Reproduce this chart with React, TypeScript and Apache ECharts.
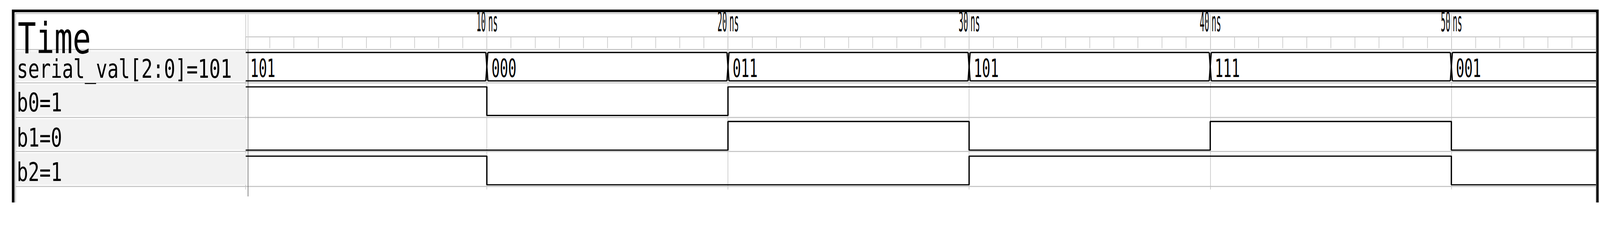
import React, { useEffect, useRef } from "react";
import * as echarts from "echarts";

const T_MAX = 56;
const TICK_LABELS = [10, 20, 30, 40, 50];
const SIGNAL_NAMES = ["serial_val[2:0]=101", "b0=1", "b1=0", "b2=1"];
const BUS_START = [0, 10, 20, 30, 40, 50];
const BUS_END = [10, 20, 30, 40, 50, 56];
const BUS_VALUES = ["101", "000", "011", "101", "111", "001"];
const B0 = [[0, 1], [10, 0], [20, 1], [56, 1]];
const B1 = [[0, 0], [20, 1], [30, 0], [40, 1], [50, 0], [56, 0]];
const B2 = [[0, 1], [10, 0], [30, 1], [50, 0], [56, 0]];

const MONO = "DejaVu Sans Mono";
const W = 4851;
const H = 614;
const GL = 745;
const GR = W - 745 - 4094;
const ROW_LINES = [150, 251, 356, 459, 565];
const LABEL_Y = [209, 311, 417, 521];

export default function App() {
  const ref = useRef<HTMLDivElement>(null);
  const vw = typeof window !== "undefined" ? window.innerWidth : W;
  const vh = typeof window !== "undefined" ? window.innerHeight : H;
  const sc = Math.min(1, vw / W, vh / H);
  useEffect(() => {
    const chart = echarts.init(ref.current!, null, { renderer: "svg" });
    const xBase = { type: "value", min: 0, max: T_MAX, show: false };
    const rowGrids = [
      { top: 159, height: 86 },
      { top: 263, height: 87 },
      { top: 368, height: 87 },
      { top: 473, height: 87 },
    ];
    const grids: any[] = [
      { left: GL, right: GR, top: 76, height: 35 },
      { left: GL, right: GR, top: 44, height: 530 },
      ...rowGrids.map((g) => ({ left: GL, right: GR, top: g.top, height: g.height })),
    ];
    const xAxes: any[] = [
      {
        type: "value", min: 0, max: T_MAX, interval: 1, gridIndex: 0, position: "bottom",
        axisLine: { show: true, onZero: false, lineStyle: { color: "#c8c8c8", width: 3 } },
        axisTick: { show: true, inside: false, length: 35, lineStyle: { color: "#c8c8c8", width: 2 } },
        axisLabel: { show: false }, splitLine: { show: false },
      },
      {
        type: "value", min: 0, max: T_MAX, interval: 10, gridIndex: 1,
        axisLine: { show: false }, axisTick: { show: false }, axisLabel: { show: false },
        splitLine: { show: true, lineStyle: { color: "#c8c8c8", width: 2 } },
      },
      ...rowGrids.map((_, i) => ({ ...xBase, gridIndex: i + 2 })),
    ];
    const yAxes: any[] = grids.map((_, i) => ({ type: "value", min: 0, max: 1, show: false, gridIndex: i }));

    const graphic: any[] = [
      { type: "rect", z: 1, shape: { x: 40, y: 33, width: 4803, height: 700 }, style: { fill: "none", stroke: "#000", lineWidth: 8 } },
      { type: "rect", z: 1, shape: { x: 47, y: 41, width: 4792, height: 700 }, style: { fill: "none", stroke: "#b0b0b0", lineWidth: 2 } },
    ];
    for (let i = 0; i < 4; i++) {
      graphic.push({ type: "rect", z: 2, shape: { x: 49, y: ROW_LINES[i] + 5, width: 700, height: ROW_LINES[i + 1] - ROW_LINES[i] - 10 }, style: { fill: "#f2f2f2" } });
    }
    ROW_LINES.forEach((y) => {
      graphic.push({ type: "line", z: 3, shape: { x1: 47, y1: y, x2: 4839, y2: y }, style: { stroke: "#c0c0c0", lineWidth: 3 } });
    });
    graphic.push({ type: "line", z: 3, shape: { x1: 752, y1: 44, x2: 752, y2: 150 }, style: { stroke: "#d0d0d0", lineWidth: 2 } });
    graphic.push({ type: "line", z: 3, shape: { x1: 752, y1: 150, x2: 752, y2: 595 }, style: { stroke: "#707070", lineWidth: 2 } });
    graphic.push({
      type: "text", z: 4, x: 54, y: 116, scaleY: 1.4,
      style: { text: "Time", font: `92px '${MONO}'`, fill: "#000", verticalAlign: "middle" },
    });
    SIGNAL_NAMES.forEach((n, i) => {
      graphic.push({
        type: "text", z: 4, x: 51, y: LABEL_Y[i], scaleY: 1.38,
        style: { text: n, font: `57px '${MONO}'`, fill: "#000", verticalAlign: "middle" },
      });
    });

    const stepSeries = (data: number[][], idx: number) => ({
      type: "line", xAxisIndex: idx, yAxisIndex: idx, data, step: "end", symbol: "none",
      lineStyle: { color: "#000", width: 4 }, z: 5,
    });

    chart.setOption({
      animation: false,
      grid: grids,
      xAxis: xAxes,
      yAxis: yAxes,
      graphic,
      series: [
        {
          type: "custom", xAxisIndex: 0, yAxisIndex: 0, data: TICK_LABELS.map((t) => [t, 0]),
          encode: { x: 0, y: 1 },
          renderItem: (params: any, api: any) => {
            const t = api.value(0);
            const p = api.coord([t, 0]);
            const f = `24px '${MONO}'`;
            return {
              type: "group",
              children: [
                { type: "text", x: p[0] - 3, y: p[1] - 3, scaleY: 3.4, style: { text: String(t), font: f, fill: "#000", align: "right", verticalAlign: "bottom" } },
                { type: "text", x: p[0] + 4, y: p[1] - 3, scaleY: 3.4, style: { text: "ns", font: f, fill: "#000", align: "left", verticalAlign: "bottom" } },
              ],
            };
          },
        },
        {
          type: "custom", xAxisIndex: 2, yAxisIndex: 2, z: 5,
          data: BUS_START.map((t, i) => [t, BUS_END[i], i]),
          encode: { x: [0, 1] },
          renderItem: (params: any, api: any) => {
            const t0 = api.value(0), t1 = api.value(1), i = api.value(2);
            const a = api.coord([t0, 1]);
            const b = api.coord([t1, 0]);
            const top = a[1], bot = b[1], x0 = a[0], x1 = b[0];
            const s = 3;
            const xs = t0 > 0 ? x0 + s : x0;
            const xe = t1 < T_MAX ? x1 - s : x1;
            const st = { stroke: "#000", lineWidth: 4, fill: "none" };
            const ch: any[] = [
              { type: "line", shape: { x1: xs, y1: top, x2: xe, y2: top }, style: st },
              { type: "line", shape: { x1: xs, y1: bot, x2: xe, y2: bot }, style: st },
              {
                type: "text", x: x0 + 14, y: 207, scaleY: 1.8,
                style: { text: BUS_VALUES[i], font: `42px '${MONO}'`, fill: "#000", verticalAlign: "middle" },
              },
            ];
            if (t0 > 0) {
              ch.push({ type: "line", shape: { x1: x0 - s, y1: top, x2: x0 + s, y2: bot }, style: st });
              ch.push({ type: "line", shape: { x1: x0 - s, y1: bot, x2: x0 + s, y2: top }, style: st });
            }
            return { type: "group", children: ch };
          },
        },
        stepSeries(B0, 3),
        stepSeries(B1, 4),
        stepSeries(B2, 5),
      ],
    });
    return () => chart.dispose();
  }, []);
  return (
    <div style={{ position: "absolute", left: 0, top: 0, width: W * sc, height: H * sc, overflow: "hidden", background: "#fff" }}>
      <div
        ref={ref}
        style={{ width: W, height: H, transform: `scale(${sc})`, transformOrigin: "0 0", background: "#fff" }}
      />
    </div>
  );
}
